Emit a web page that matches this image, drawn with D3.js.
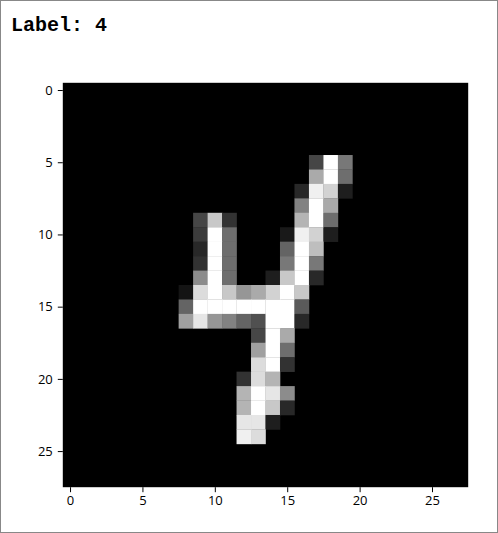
<!DOCTYPE html>
<html>
<head>
<meta charset="utf-8">
<script src="https://cdn.jsdelivr.net/npm/d3@7"></script>
<style>
body { margin: 0; background: #fff; }
.tick text { font-family: "Open Sans", sans-serif; font-size: 13px; fill: #000; }
</style>
</head>
<body>
<svg id="chart" width="498" height="533"></svg>
<script>
var label = "4";
var size = 28;
var tickValues = [0, 5, 10, 15, 20, 25];
// [row, col, intensity] for non-zero pixels
var pixels = [
  [5,17,70],[5,18,255],[5,19,120],
  [6,17,170],[6,18,255],[6,19,110],
  [7,16,40],[7,17,240],[7,18,210],[7,19,30],
  [8,16,130],[8,17,255],[8,18,170],
  [9,9,70],[9,10,200],[9,11,50],[9,16,180],[9,17,255],[9,18,110],
  [10,9,60],[10,10,255],[10,11,110],[10,15,25],[10,16,240],[10,17,210],[10,18,30],
  [11,9,40],[11,10,255],[11,11,110],[11,15,100],[11,16,255],[11,17,190],
  [12,9,50],[12,10,255],[12,11,110],[12,15,120],[12,16,255],[12,17,120],
  [13,9,140],[13,10,255],[13,11,110],[13,14,30],[13,15,200],[13,16,255],[13,17,40],
  [14,8,20],[14,9,220],[14,10,255],[14,11,200],[14,12,150],[14,13,170],[14,14,210],[14,15,255],[14,16,200],
  [15,8,100],[15,9,255],[15,10,255],[15,11,255],[15,12,255],[15,13,255],[15,14,255],[15,15,255],[15,16,90],
  [16,8,160],[16,9,230],[16,10,150],[16,11,130],[16,12,100],[16,13,80],[16,14,255],[16,15,255],[16,16,40],
  [17,13,70],[17,14,255],[17,15,170],
  [18,13,160],[18,14,255],[18,15,110],
  [19,13,220],[19,14,255],[19,15,50],
  [20,12,50],[20,13,220],[20,14,180],
  [21,12,180],[21,13,255],[21,14,230],[21,15,140],
  [22,12,180],[22,13,255],[22,14,200],[22,15,40],
  [23,12,230],[23,13,230],[23,14,30],
  [24,12,240],[24,13,220]
];

var svg = d3.select("#chart");

svg.append("rect")
  .attr("x", 0.5).attr("y", 0.5)
  .attr("width", 497).attr("height", 532)
  .attr("fill", "#fff").attr("stroke", "#888");

svg.append("text")
  .attr("x", 11).attr("y", 31)
  .attr("font-family", "'Liberation Mono', monospace")
  .attr("font-weight", "bold")
  .attr("font-size", 20)
  .text("Label: " + label);

var x = d3.scaleLinear().domain([-0.5, size - 0.5]).range([62.8, 468.2]);
var y = d3.scaleLinear().domain([-0.5, size - 0.5]).range([82.8, 487.2]);

svg.append("rect")
  .attr("x", x(-0.5)).attr("y", y(-0.5))
  .attr("width", x(size - 0.5) - x(-0.5))
  .attr("height", y(size - 0.5) - y(-0.5))
  .attr("fill", "#000");

var cw = x(1) - x(0), ch = y(1) - y(0);
svg.append("g").selectAll("rect")
  .data(pixels)
  .enter()
  .append("rect")
  .attr("x", d => x(d[1] - 0.5))
  .attr("y", d => y(d[0] - 0.5))
  .attr("width", cw + 0.3)
  .attr("height", ch + 0.3)
  .attr("fill", d => d3.rgb(d[2], d[2], d[2]));

svg.append("g")
  .attr("transform", `translate(0, ${y(size - 0.5)})`)
  .call(d3.axisBottom(x).tickValues(tickValues).tickSize(5).tickPadding(4))
  .call(g => g.select(".domain").remove());

svg.append("g")
  .attr("transform", `translate(${x(-0.5)}, 0)`)
  .call(d3.axisLeft(y).tickValues(tickValues).tickSize(5).tickPadding(5))
  .call(g => g.select(".domain").remove());
</script>
</body>
</html>
